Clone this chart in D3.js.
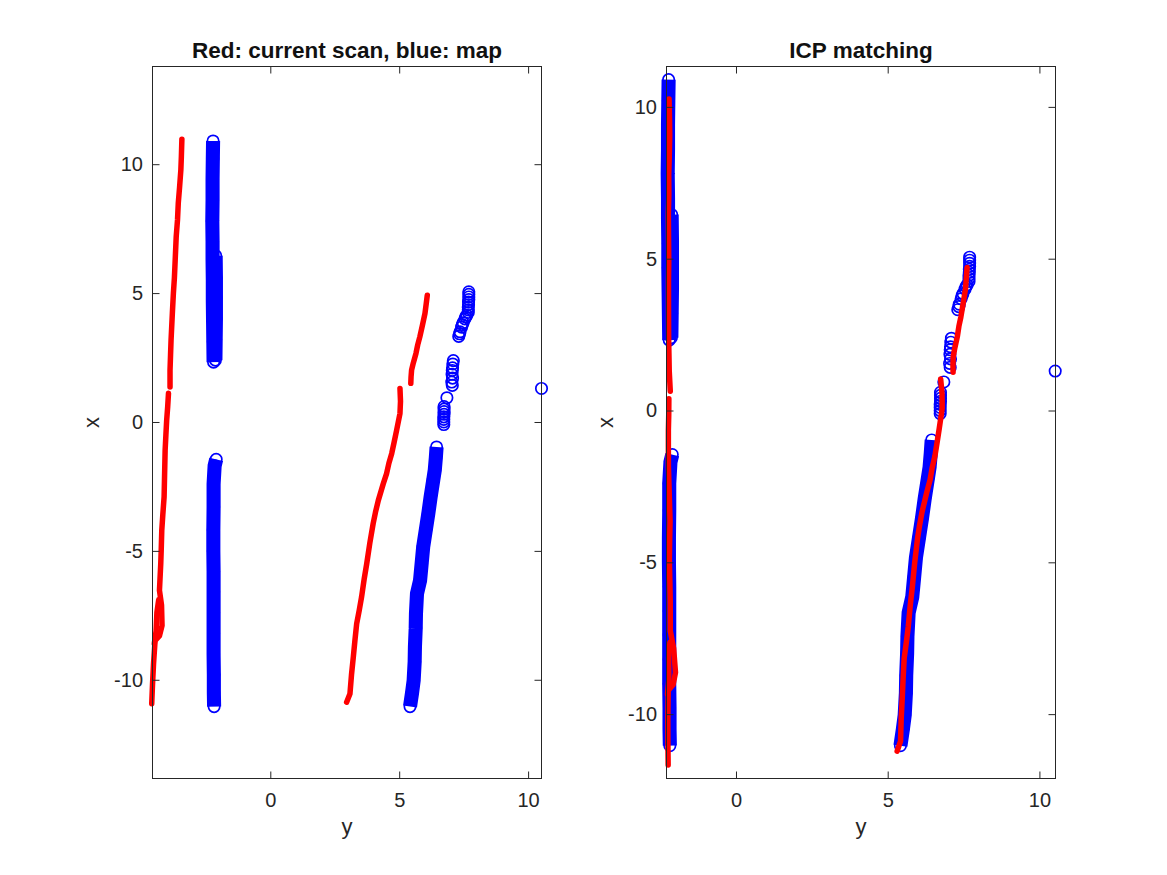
<!DOCTYPE html>
<html>
<head>
<meta charset="utf-8">
<script src="https://cdn.jsdelivr.net/npm/d3@7"></script>
<style>
  body { margin: 0; background: #fff; }
  svg { display: block; }
  text { font-family: "Liberation Sans", Arial, Helvetica, sans-serif; }
</style>
</head>
<body>
<svg id="fig" width="1167" height="875"></svg>
<script>
// all points are [y, x]: y runs along the horizontal axis, x along the vertical one

// map (blue rings), long walls drawn as dense stacks
const mapWallUpper = [[-2.22, 10.9], [-2.23, 10.2], [-2.24, 9.4], [-2.24, 8.6], [-2.25, 7.8], [-2.24, 7.0],
  [-2.24, 6.3], [-2.23, 5.5], [-2.23, 4.7], [-2.22, 3.9], [-2.21, 3.1], [-2.20, 2.32]];
const mapWallUpperSide = [[-2.12, 6.45], [-2.11, 5.6], [-2.11, 4.8], [-2.11, 4.0], [-2.12, 3.2], [-2.13, 2.4]];
const mapWallLower = [[-2.10, -1.45], [-2.16, -1.7], [-2.20, -2.4], [-2.20, -3.3], [-2.21, -4.2], [-2.21, -5.0],
  [-2.20, -5.8], [-2.20, -6.6], [-2.20, -7.4], [-2.20, -8.2], [-2.20, -9.0], [-2.19, -9.8], [-2.19, -10.5], [-2.18, -11.04]];
const mapWallSlant = [[5.42, -11.04], [5.50, -10.5], [5.56, -10.03], [5.60, -9.3], [5.61, -8.73], [5.64, -8.0],
  [5.65, -7.44], [5.69, -6.66], [5.81, -6.14], [5.87, -5.5], [5.93, -4.85], [6.03, -4.2], [6.13, -3.55],
  [6.22, -2.9], [6.32, -2.26], [6.38, -1.87], [6.42, -1.4], [6.45, -0.97]];

// map, small patches (separate rings)
const mapPatchSingle = [[6.85, 0.94]];
const mapPatchLow = [[6.74, 0.6], [6.74, 0.5], [6.74, 0.4], [6.74, 0.3], [6.73, 0.2], [6.73, 0.1], [6.73, 0.0], [6.73, -0.1]];
const mapPatchMid = [[7.10, 2.38], [7.08, 2.25], [7.07, 2.1], [7.06, 2.0], [7.05, 1.85], [7.07, 1.7], [7.04, 1.55], [7.06, 1.42]];
const mapPatchSlant = [[7.31, 3.32], [7.34, 3.42], [7.36, 3.5], [7.42, 3.68], [7.45, 3.78], [7.48, 3.85],
  [7.55, 4.0], [7.58, 4.08], [7.62, 4.14]];
const mapPatchTop = [[7.68, 4.25], [7.68, 4.35], [7.68, 4.45], [7.69, 4.55], [7.69, 4.65], [7.70, 4.75],
  [7.70, 4.85], [7.70, 4.95], [7.70, 5.05]];
const mapOutlier = [[10.52, 1.30]];

// current scan (red), one array per unbroken run
const scanRun1a = [[-3.43, 10.97], [-3.45, 10.3], [-3.47, 9.78], [-3.52, 9.1], [-3.57, 8.49], [-3.60, 7.84],
  [-3.65, 7.19], [-3.69, 6.28], [-3.72, 5.6], [-3.76, 4.99], [-3.80, 4.21], [-3.85, 3.18], [-3.87, 2.6],
  [-3.89, 2.01], [-3.89, 1.36]];
const scanRun1b = [[-3.95, 1.11], [-3.98, 0.6], [-4.02, 0.07], [-4.05, -0.5], [-4.08, -1.10], [-4.10, -2.0],
  [-4.12, -2.91], [-4.17, -3.6], [-4.21, -4.20], [-4.23, -4.9], [-4.25, -5.50], [-4.30, -6.53], [-4.22, -7.1],
  [-4.20, -7.9], [-4.30, -8.3], [-4.47, -8.48], [-4.53, -9.38], [-4.57, -10.2], [-4.60, -10.93]];
const scanRun1c = [[-4.33, -6.9], [-4.40, -7.4], [-4.43, -8.1], [-4.50, -8.6]];
const scanRun2a = [[6.09, 4.92], [6.05, 4.6], [6.00, 4.21], [5.90, 3.75], [5.80, 3.30], [5.72, 3.0],
  [5.65, 2.66], [5.55, 2.3], [5.48, 2.01], [5.46, 1.75], [5.45, 1.50]];
const scanRun2b = [[5.03, 1.30], [5.05, 0.8], [5.03, 0.33], [4.90, -0.32], [4.80, -0.8], [4.71, -1.22],
  [4.60, -1.6], [4.51, -2.00], [4.38, -2.4], [4.19, -3.04], [4.08, -3.5], [3.99, -3.94], [3.86, -4.7],
  [3.74, -5.50], [3.64, -6.1], [3.54, -6.79], [3.45, -7.3], [3.35, -7.83], [3.28, -8.5], [3.22, -9.12],
  [3.15, -9.8], [3.09, -10.54], [2.96, -10.87]];

// pose found by ICP: [dy, dx, rotation in degrees]
const icpPose = [1.79, -0.52, 2.98];

const tickValuesY = [0, 5, 10];
const tickValuesX = [-10, -5, 0, 5, 10];

const mapBands = [mapWallUpper, mapWallUpperSide, mapWallLower, mapWallSlant];
const mapPatches = [mapPatchSingle, mapPatchLow, mapPatchMid, mapPatchSlant, mapPatchTop, mapOutlier];
const scanRuns = [scanRun1a, scanRun1b, scanRun1c, scanRun2a, scanRun2b];

const BLUE = "#0000ff", RED = "#ff0000", AXIS_COLOR = "#262626";
const RING_R = 5.7, RING_W = 1.7;

const svg = d3.select("#fig");
svg.append("rect").attr("width", 1167).attr("height", 875).attr("fill", "#fff");

function applyPose(pts) {
  const th = icpPose[2] * Math.PI / 180, c = Math.cos(th), s = Math.sin(th);
  return pts.map(([y, x]) => [c * y - s * x + icpPose[0], s * y + c * x + icpPose[1]]);
}

function drawPanel(p) {
  const sx = d3.scaleLinear().domain(p.yLim).range([p.left, p.right]);
  const sy = d3.scaleLinear().domain(p.xLim).range([p.bottom, p.top]);
  const line = d3.line().x(d => sx(d[0])).y(d => sy(d[1]));
  const g = svg.append("g");

  // map walls: solid band of overlapping rings, rings on top show at the ends
  mapBands.forEach(seg => {
    g.append("path").attr("d", line(seg))
      .attr("fill", "none").attr("stroke", BLUE)
      .attr("stroke-width", 2 * RING_R + RING_W + 1);
  });
  mapBands.concat(mapPatches).forEach(seg => {
    g.selectAll(null).data(seg).enter().append("circle")
      .attr("cx", d => sx(d[0])).attr("cy", d => sy(d[1]))
      .attr("r", RING_R)
      .attr("fill", "none").attr("stroke", BLUE).attr("stroke-width", RING_W);
  });

  // scan
  p.scan.forEach(run => {
    g.append("path").attr("d", line(run))
      .attr("fill", "none").attr("stroke", RED)
      .attr("stroke-width", 5.5)
      .attr("stroke-linejoin", "round").attr("stroke-linecap", "round");
  });

  // box + ticks (inward on all four sides)
  const fmt = d => String(d);
  const styleAxis = a => a.attr("color", AXIS_COLOR).attr("font-size", 20)
    .attr("font-family", '"Liberation Sans", Arial, Helvetica, sans-serif')
    .call(s => s.select(".domain").remove())
    .call(s => s.selectAll("line").attr("stroke-width", 1));

  svg.append("g").attr("transform", `translate(0,${p.bottom})`)
    .call(d3.axisBottom(sx).tickValues(tickValuesY).tickSize(-7).tickPadding(14).tickFormat(fmt))
    .call(styleAxis);
  svg.append("g").attr("transform", `translate(0,${p.top})`)
    .call(d3.axisTop(sx).tickValues(tickValuesY).tickSize(-7).tickFormat(""))
    .call(styleAxis);
  svg.append("g").attr("transform", `translate(${p.left},0)`)
    .call(d3.axisLeft(sy).tickValues(tickValuesX).tickSize(-7).tickPadding(9.5).tickFormat(fmt))
    .call(styleAxis);
  svg.append("g").attr("transform", `translate(${p.right},0)`)
    .call(d3.axisRight(sy).tickValues(tickValuesX).tickSize(-7).tickFormat(""))
    .call(styleAxis);

  svg.append("rect")
    .attr("x", p.left).attr("y", p.top)
    .attr("width", p.right - p.left).attr("height", p.bottom - p.top)
    .attr("fill", "none").attr("stroke", AXIS_COLOR).attr("stroke-width", 1);

  const cx = (p.left + p.right) / 2;
  svg.append("text").attr("x", cx).attr("y", 58)
    .attr("text-anchor", "middle").attr("font-size", 22.5).attr("font-weight", "bold")
    .attr("fill", "#111").text(p.title);
  svg.append("text").attr("x", cx).attr("y", 834)
    .attr("text-anchor", "middle").attr("font-size", 22)
    .attr("fill", AXIS_COLOR).text("y");
  svg.append("text")
    .attr("transform", `translate(${p.left - 53.5},${(p.top + p.bottom) / 2}) rotate(-90)`)
    .attr("text-anchor", "middle").attr("font-size", 22)
    .attr("fill", AXIS_COLOR).text("x");
}

drawPanel({
  left: 152.5, right: 541.5, top: 66.5, bottom: 778.5,
  yLim: [-4.57, 10.52], xLim: [-13.83, 13.79],
  title: "Red: current scan, blue: map",
  scan: scanRuns
});

drawPanel({
  left: 666.5, right: 1055.5, top: 66.5, bottom: 778.5,
  yLim: [-2.29, 10.53], xLim: [-12.12, 11.33],
  title: "ICP matching",
  scan: scanRuns.map(applyPose)
});
</script>
</body>
</html>
